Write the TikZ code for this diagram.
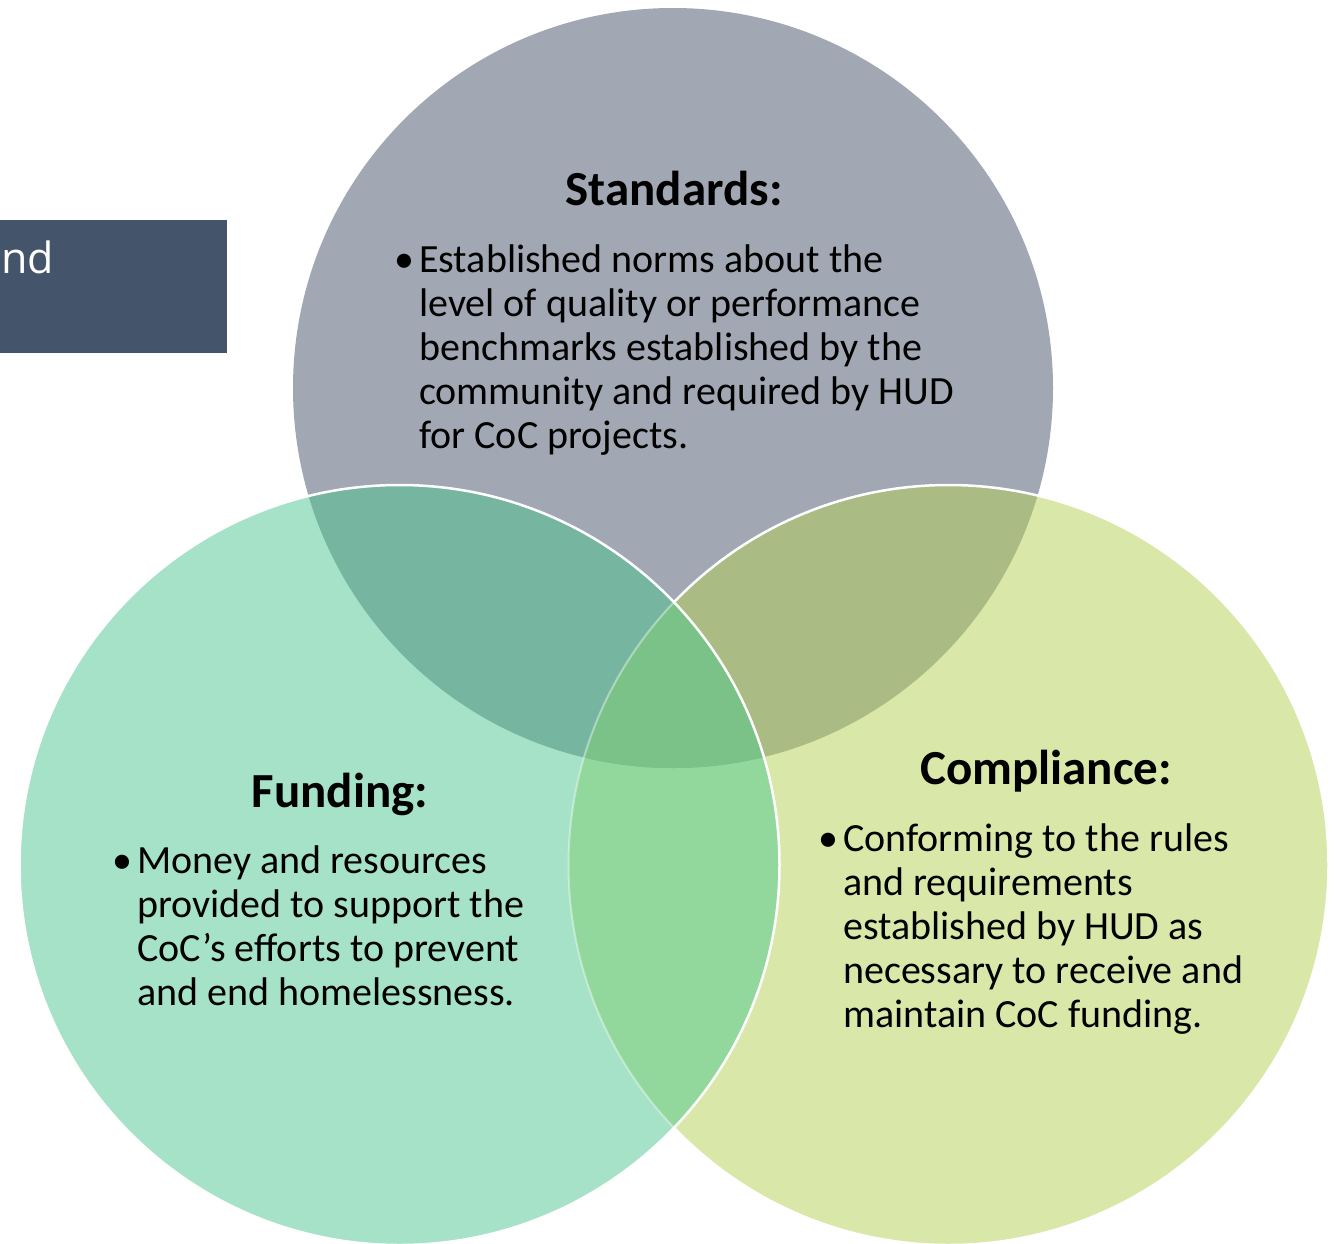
\documentclass[tikz,border=0pt]{standalone}
\usepackage{fontspec}
\setmainfont{Carlito}
\newfontfamily\boxfont{Open Sans}

\definecolor{stdfill}{HTML}{A1A8B4}
\definecolor{fundfill}{HTML}{A5E2C8}
\definecolor{compfill}{HTML}{D9E7A9}
\definecolor{stdfund}{HTML}{76B6A0}
\definecolor{stdcomp}{HTML}{AABB84}
\definecolor{fundcomp}{HTML}{92D89C}
\definecolor{allthree}{HTML}{7AC288}
\definecolor{slate}{HTML}{44546A}

\tikzset{
  title/.style={anchor=base, inner sep=0pt, font=\bfseries\fontsize{49}{52}\selectfont},
  % multi-line nodes sit on the baseline of their last line
  body/.style={anchor=base west, inner sep=0pt, align=left, font=\fontsize{40}{44}\selectfont},
  bullet/.style={anchor=base, inner sep=0pt, font=\fontsize{40}{44}\selectfont},
  rim/.style={draw=white, line width=2.5pt},
}

\begin{document}
\begin{tikzpicture}[x=1pt, y=-1pt]
\useasboundingbox (0,0) rectangle (1338,1244);
\fill[white] (0,0) rectangle (1338,1244);

% circle centres
\coordinate (cT) at (673,388);
\coordinate (cL) at (399.5,865);
\coordinate (cR) at (948.5,865);
\def\rad{380}

% dark banner on the left
\node[fill=slate, minimum width=227pt, minimum height=133pt, inner sep=0pt, anchor=north west] (banner) at (0,220) {};
\node[anchor=base west, inner sep=0pt, text=white, font=\boxfont\fontsize{43}{46}\selectfont] (bannertext) at (1,273) {nd};

% standards circle
\fill[stdfill] (cT) circle[radius=\rad];

% compliance circle and its overlap with standards
\fill[compfill] (cR) circle[radius=\rad];
\begin{scope}
  \clip (cT) circle[radius=\rad];
  \fill[stdcomp] (cR) circle[radius=\rad];
\end{scope}
\draw[rim] (cR) circle[radius=\rad];

% funding circle and its overlaps
\fill[fundfill] (cL) circle[radius=\rad];
\begin{scope}
  \clip (cL) circle[radius=\rad];
  \fill[fundcomp] (cR) circle[radius=\rad];
  \clip (cT) circle[radius=\rad];
  \fill[stdfund] (cL) circle[radius=\rad];
  \clip (cR) circle[radius=\rad];
  \fill[allthree] (cL) circle[radius=\rad];
\end{scope}
% faint compliance rim seen through the funding circle
\begin{scope}
  \clip (cL) circle[radius=\rad];
  \draw[draw=white, line width=2pt, draw opacity=0.4] (cR) circle[radius=\rad];
\end{scope}
\draw[rim] (cL) circle[radius=\rad];

% Standards text
\node[title] (stdtitle) at (674,205) {Standards:};
\node[bullet] (stdbullet) at (404,272) {\textbullet};
\node[body] (stdtext) at (419,448) {Established norms about the\\
level of quality or performance\\
benchmarks established by the\\
community and required by HUD\\
for CoC projects.};

% Funding text
\node[title] (fundtitle) at (340,807) {Funding:};
\node[bullet] (fundbullet) at (122,873) {\textbullet};
\node[body] (fundtext) at (137,1005) {Money and resources\\
provided to support the\\
CoC’s efforts to prevent\\
and end homelessness.};

% Compliance text
\node[title] (comptitle) at (1046,784) {Compliance:};
\node[bullet] (compbullet) at (828,851) {\textbullet};
\node[body] (comptext) at (843,1027) {Conforming to the rules\\
and requirements\\
established by HUD as\\
necessary to receive and\\
maintain CoC funding.};
\end{tikzpicture}
\end{document}
